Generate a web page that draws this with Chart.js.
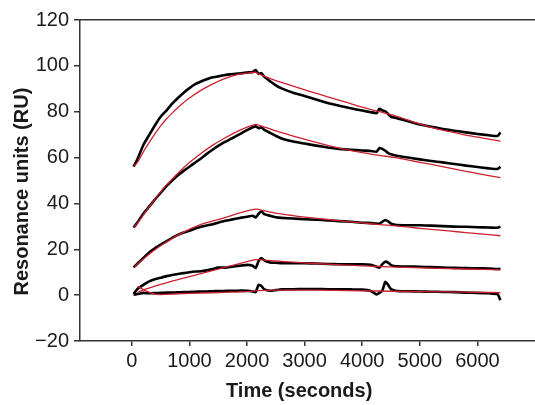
<!DOCTYPE html>
<html>
<head>
<meta charset="utf-8">
<script src="https://cdn.jsdelivr.net/npm/chart.js@4/dist/chart.umd.min.js"></script>
<style>
html,body{margin:0;padding:0;background:#fff;}
#wrap{width:535px;height:405px;}
</style>
</head>
<body>
<div id="wrap"><canvas id="c" width="535" height="405"></canvas></div>
<script>
// ---- data ----
const xTickValues = [0, 1000, 2000, 3000, 4000, 5000, 6000];
const yTickValues = [-20, 0, 20, 40, 60, 80, 100, 120];

// sample times of the measured sensorgrams (s)
const measTimes = [30, 100, 200, 300, 400, 500, 600, 700, 800, 900, 1000, 1100, 1200, 1300, 1400, 1500, 1600, 1700, 1800, 1900, 2000, 2100, 2150, 2200, 2250, 2300, 2400, 2500, 2600, 2800, 3000, 3200, 3400, 3600, 3800, 4000, 4150, 4250, 4300, 4350, 4400, 4450, 4500, 4600, 4800, 5000, 5200, 5400, 5600, 5800, 6000, 6200, 6350, 6400];

const meas1 = [56, 59.5, 65.5, 69.8, 74, 77.8, 80.5, 83.5, 86, 88.3, 90.3, 92, 93.2, 94.2, 95, 95.4, 95.9, 96.3, 96.5, 96.8, 97.1, 97.3, 98.2, 96.5, 96.8, 95.2, 93.3, 91.5, 90.2, 88.3, 86.9, 85.3, 83.8, 82.6, 81.5, 80.5, 79.8, 79.4, 81.3, 80.6, 80.2, 79.0, 77.8, 77.2, 75.8, 74.4, 73.4, 72.5, 71.7, 71.0, 70.3, 69.7, 69.4, 71];
const meas2 = [29.5, 31.8, 35.5, 38.6, 41.7, 44.6, 47.5, 50, 52.3, 54.2, 56, 57.8, 59.6, 61.6, 63.4, 65.1, 66.6, 67.9, 69.2, 70.6, 72, 73.2, 73.6, 72.8, 73.2, 72.1, 70.8, 69.5, 68.3, 67.0, 66.1, 65.2, 64.4, 63.8, 63.4, 63.1, 62.9, 62.6, 64.2, 63.8, 63.0, 62.0, 61.4, 60.8, 60.0, 59.2, 58.5, 57.9, 57.2, 56.5, 55.9, 55.3, 55.0, 56];
const meas3 = [12.1, 13.8, 16.2, 18.6, 20.4, 22.0, 23.5, 25, 26.3, 27.3, 28.1, 29.0, 29.8, 30.4, 30.9, 31.6, 32.3, 32.8, 33.3, 33.8, 34.2, 34.6, 33.9, 35.5, 36.6, 35.3, 34.6, 34.0, 33.7, 33.4, 33.1, 32.9, 32.6, 32.3, 32.0, 31.6, 31.4, 31.2, 31.2, 32.0, 32.8, 32.2, 31.2, 30.6, 30.5, 30.5, 30.3, 30.1, 29.9, 29.8, 29.6, 29.5, 29.4, 29.9];
const meas4 = [0.5, 2.8, 4.5, 6.0, 6.9, 7.6, 8.3, 8.8, 9.2, 9.6, 10.0, 10.3, 10.4, 10.8, 11.4, 12.0, 12.0, 12.3, 12.6, 12.9, 13.2, 12.8, 11.8, 14.8, 16.2, 15.2, 14.2, 14.1, 13.9, 13.9, 13.9, 13.8, 13.6, 13.5, 13.4, 13.5, 13.2, 12.4, 12.0, 13.5, 14.6, 14.2, 13.1, 12.6, 12.5, 12.4, 12.2, 12.0, 11.9, 11.8, 11.7, 11.6, 11.4, 11.5];
const meas5 = [0.2, 0.5, 1.0, 0.8, 0.9, 1.0, 1.1, 1.1, 1.2, 1.3, 1.4, 1.5, 1.6, 1.6, 1.7, 1.8, 1.8, 1.9, 1.9, 2.0, 1.9, 1.6, 1.3, 4.5, 4.0, 2.5, 1.9, 2.2, 2.5, 2.6, 2.7, 2.7, 2.6, 2.6, 2.5, 2.4, 1.8, 0.3, 1.0, 2.0, 5.8, 4.5, 2.6, 1.8, 1.7, 1.6, 1.5, 1.4, 1.3, 1.1, 1.0, 0.8, 0.4, -2.2];

// fitted curves (red)
const fitTimes1 = [30, 100, 200, 300, 400, 500, 600, 700, 800, 900, 1000, 1200, 1400, 1600, 1800, 2000, 2150, 2200, 2500, 2800, 3100, 3400, 3700, 4000, 4300, 4600, 4900, 5200, 5500, 5800, 6100, 6400];
const fit1 = [56, 58, 62.5, 66.5, 70.3, 73.8, 76.8, 79.4, 81.8, 84, 86, 89.3, 92, 94.3, 96, 96.8, 97.2, 96.5, 93.6, 91.2, 88.8, 86.5, 84.3, 82.0, 80.0, 78.0, 75.5, 73.2, 71.4, 69.8, 68.5, 67.2];
const fitTimes2 = [30, 100, 200, 300, 400, 500, 600, 800, 1000, 1200, 1400, 1600, 1800, 2000, 2150, 2200, 2500, 2800, 3100, 3400, 3700, 4000, 4300, 4600, 4900, 5200, 5500, 5800, 6100, 6400];
const fit2 = [29.5, 31.5, 35, 38.5, 41.8, 45, 48, 53.2, 57.8, 61.8, 65.3, 68.3, 71, 73.3, 74.5, 74.2, 71.6, 69.4, 67.3, 65.3, 63.6, 62.2, 61.0, 59.9, 58.4, 57.0, 55.5, 54.0, 52.6, 51.3];
const fitTimes3 = [30, 200, 400, 600, 800, 1000, 1200, 1400, 1600, 1800, 2000, 2150, 2200, 2500, 2800, 3100, 3400, 3700, 4000, 4300, 4600, 4900, 5200, 5500, 5800, 6100, 6400];
const fit3 = [12, 15.8, 19.8, 23.2, 26.2, 28.7, 30.9, 32.3, 33.7, 35.3, 36.8, 37.5, 37.4, 35.8, 34.7, 33.8, 33.0, 32.2, 31.5, 30.8, 30.2, 29.4, 28.7, 28.0, 27.3, 26.6, 25.9];
const fitTimes4 = [100, 200, 400, 600, 800, 1000, 1200, 1400, 1600, 1800, 2000, 2150, 2200, 2500, 2800, 3100, 3400, 3700, 4000, 4300, 4600, 4900, 5200, 5500, 5800, 6100, 6400];
const fit4 = [1.2, 2.3, 3.9, 5.4, 6.8, 8.1, 9.4, 10.7, 12.0, 13.3, 14.6, 15.5, 15.5, 14.9, 14.4, 13.9, 13.5, 13.1, 12.8, 12.5, 12.2, 12.0, 11.8, 11.6, 11.4, 11.2, 11.0];
const fitTimes5 = [100, 250, 430, 800, 1200, 1600, 2000, 2200, 2500, 3000, 3500, 4000, 4500, 5000, 5500, 6000, 6400];
const fit5 = [3.8, 1.8, 0.3, 0.6, 0.9, 1.2, 1.5, 2.0, 2.2, 2.2, 2.1, 1.9, 1.7, 1.5, 1.4, 1.2, 1.1];

const xTitle = 'Time (seconds)';
const yTitle = 'Resonance units (RU)';

// ---- build datasets ----
function pts(ts, vs) { return ts.map((t, i) => ({x: t, y: vs[i]})); }
const BLACK = '#000000';
const RED = '#cc2030';
function meas(vs) {
  return {data: pts(measTimes, vs), borderColor: BLACK, borderWidth: 2.6, pointRadius: 0, tension: 0.15, fill: false, order: 2};
}
function fit(ts, vs) {
  return {data: pts(ts, vs), borderColor: RED, borderWidth: 1.3, pointRadius: 0, tension: 0.3, fill: false, order: 1};
}

const AX = '#333333';
const TXT = '#1a1a1a';
const FONT = "'Liberation Sans', Arial, Helvetica, sans-serif";
const NB = '\u00a0';

new Chart(document.getElementById('c'), {
  type: 'line',
  data: {
    datasets: [
      meas(meas1), meas(meas2), meas(meas3), meas(meas4), meas(meas5),
      fit(fitTimes1, fit1), fit(fitTimes2, fit2), fit(fitTimes3, fit3), fit(fitTimes4, fit4), fit(fitTimes5, fit5)
    ]
  },
  options: {
    responsive: false,
    animation: false,
    devicePixelRatio: 1,
    layout: {padding: {top: 20, left: 0, right: 0, bottom: 0}},
    plugins: {legend: {display: false}, tooltip: {enabled: false}},
    scales: {
      x: {
        type: 'linear', position: 'bottom', min: -900, max: 7000,
        afterBuildTicks: s => { s.ticks = xTickValues.map(v => ({value: v})); },
        afterFit: s => { s.height = 64; },
        grid: {display: true, drawOnChartArea: false, drawTicks: true, tickLength: 5, color: AX, lineWidth: 1.5},
        border: {display: true, color: AX, width: 1.5},
        ticks: {color: TXT, font: {family: FONT, size: 20}, padding: 3, maxRotation: 0, autoSkip: false,
          callback: v => String(v)},
        title: {display: true, text: xTitle + NB + NB + NB, color: TXT, font: {family: FONT, size: 20, weight: 'bold'}, padding: {top: 0, bottom: 2}}
      },
      x2: {
        type: 'linear', position: 'top', min: -900, max: 7000,
        afterFit: s => { s.height = 0; },
        grid: {display: false, drawTicks: false},
        border: {display: true, color: AX, width: 1.5},
        ticks: {display: false}
      },
      y: {
        type: 'linear', position: 'left', min: -20, max: 120,
        afterBuildTicks: s => { s.ticks = yTickValues.map(v => ({value: v})); },
        afterFit: s => { s.width = 80; },
        grid: {display: true, drawOnChartArea: false, drawTicks: true, tickLength: 6, color: AX, lineWidth: 1.5},
        border: {display: true, color: AX, width: 1.5},
        ticks: {color: TXT, font: {family: FONT, size: 20}, padding: 5,
          callback: v => v < 0 ? '\u2212' + Math.abs(v) : String(v)},
        title: {display: true, text: yTitle + NB + NB + NB + NB, color: TXT, font: {family: FONT, size: 20, weight: 'bold'}, padding: {top: 10, bottom: 0}}
      }
    }
  }
});
</script>
</body>
</html>
